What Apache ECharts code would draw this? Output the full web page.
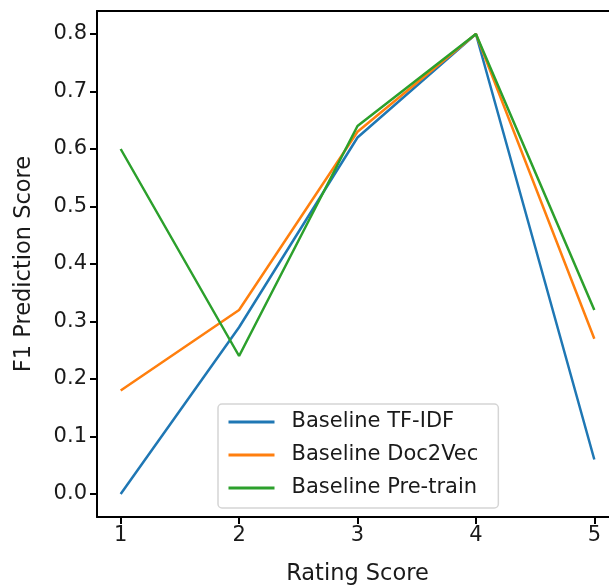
<!DOCTYPE html>
<html><head><meta charset="utf-8">
<script src="https://cdn.jsdelivr.net/npm/echarts@6/dist/echarts.min.js"></script>
<style>html,body{margin:0;padding:0;background:#fff;overflow:hidden}#c{width:609px;height:586px}</style>
</head><body><div id="c"></div>
<script>
var categories = [1, 2, 3, 4, 5];
var tfidf = [0.0, 0.29, 0.62, 0.8, 0.06];
var doc2vec = [0.18, 0.32, 0.63, 0.8, 0.27];
var pretrain = [0.6, 0.24, 0.64, 0.8, 0.32];
var yTicks = [0.0, 0.1, 0.2, 0.3, 0.4, 0.5, 0.6, 0.7, 0.8];
var names = ['Baseline TF-IDF', 'Baseline Doc2Vec', 'Baseline Pre-train'];
var colors = ['#1f77b4', '#ff7f0e', '#2ca02c'];
var font = 'DejaVu Sans';

function pairs(vals){ return categories.map(function(c,i){ return [c, vals[i]]; }); }

var chart = echarts.init(document.getElementById('c'), null, {renderer:'canvas'});
var series = [tfidf, doc2vec, pretrain].map(function(v,i){
  return {name: names[i], type:'line', data: pairs(v), symbol:'none', color: colors[i],
          lineStyle:{width:2.5, color: colors[i]}, animation:false, z: 3+i};
});
chart.setOption({
  animation:false,
  grid:{left:97, top:11, width:521, height:506, outerBoundsMode:'none', containLabel:false, show:false},
  xAxis:[{type:'value', min:0.8, max:5.2,
    name:'Rating Score', nameLocation:'middle', nameGap:46,
    nameTextStyle:{fontFamily:font, fontSize:22.5, color:'#1a1a1a'},
    axisLine:{show:true, onZero:false, lineStyle:{color:'#000', width:2}},
    axisTick:{show:true, length:7, lineStyle:{color:'#000', width:2}, customValues: categories},
    axisLabel:{fontFamily:font, fontSize:21, color:'#1a1a1a', margin:8, customValues: categories},
    splitLine:{show:false}},
   {type:'value', position:'top', min:0.8, max:5.2,
    axisLine:{show:true, onZero:false, lineStyle:{color:'#000', width:2}},
    axisTick:{show:false}, axisLabel:{show:false}, splitLine:{show:false}}],
  yAxis:{type:'value', min:-0.04, max:0.84,
    name:'F1 Prediction Score', nameLocation:'middle', nameGap:61,
    nameTextStyle:{fontFamily:font, fontSize:22.5, color:'#1a1a1a'},
    axisLine:{show:true, onZero:false, lineStyle:{color:'#000', width:2}},
    axisTick:{show:true, length:7, lineStyle:{color:'#000', width:2}, customValues: yTicks},
    axisLabel:{fontFamily:font, fontSize:21, color:'#1a1a1a', margin:10, customValues: yTicks,
      formatter:function(v){ return v.toFixed(1); }},
    splitLine:{show:false}},
  legend:{show:true, orient:'vertical', left:218, top:404, data:names,
    itemWidth:46, itemHeight:14, itemGap:9,
    itemStyle:{opacity:0},
    lineStyle:{width:3},
    padding:[6,20,8,9],
    backgroundColor:'#fff', borderColor:'#d5d5d5', borderWidth:1.5, borderRadius:4,
    textStyle:{fontFamily:font, fontSize:21, color:'#1a1a1a', lineHeight:24, padding:[0,0,0,12]}},
  series: series
});
</script></body></html>
